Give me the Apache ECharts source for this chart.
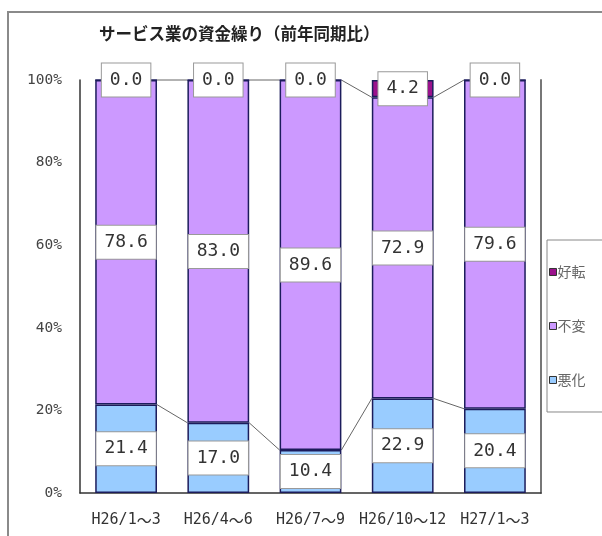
<!DOCTYPE html>
<html>
<head>
<meta charset="utf-8">
<script src="https://cdn.jsdelivr.net/npm/echarts@6/dist/echarts.min.js"></script>
<style>
html,body{margin:0;padding:0;background:#fff;}
#chart{width:602px;height:536px;}
</style>
</head>
<body>
<div id="chart"></div>
<script>
var titleText = 'サービス業の資金繰り（前年同期比）';
var categories = ['H26/1～3', 'H26/4～6', 'H26/7～9', 'H26/10～12', 'H27/1～3'];
var worse = [21.4, 17.0, 10.4, 22.9, 20.4];      // 悪化
var same = [78.6, 83.0, 89.6, 72.9, 79.6];       // 不変
var better = [0.0, 0.0, 0.0, 4.2, 0.0];          // 好転
var yTicks = [0, 20, 40, 60, 80, 100];

var BAR_PCT = 0.67;

// series-line data derived from the stacked values
var linkData = [];
for (var i = 0; i < categories.length - 1; i++) {
  var c1a = worse[i], c1b = worse[i + 1];
  var c2a = worse[i] + same[i], c2b = worse[i + 1] + same[i + 1];
  linkData.push([i, c1a, c1b, c2a, c2b]);
}

var labelStyle = {
  show: true,
  position: 'inside',
  formatter: function (p) { return Number(p.value).toFixed(1); },
  fontFamily: 'DejaVu Sans Mono',
  fontSize: 18,
  lineHeight: 20,
  color: '#333',
  backgroundColor: '#fff',
  borderColor: '#999',
  borderWidth: 1,
  padding: [7, 8, 6, 8]
};

var barBorder = { borderColor: '#1c1c5c', borderWidth: 1.5 };

var chart = echarts.init(document.getElementById('chart'), null, { renderer: 'canvas' });
chart.setOption({
  animation: false,
  backgroundColor: '#fff',
  title: {
    text: titleText,
    left: 94,
    top: 20,
    textStyle: { fontFamily: 'Noto Sans CJK JP', fontSize: 16.5, fontWeight: 'bold', color: '#222' }
  },
  graphic: [{
    type: 'rect',
    shape: { x: 8, y: 12, width: 620, height: 560 },
    style: { fill: 'none', stroke: '#8a8a8a', lineWidth: 2 },
    silent: true,
    z: -10
  }],
  legend: {
    orient: 'vertical',
    left: 547,
    top: 240,
    data: ['好転', '不変', '悪化'],
    icon: 'rect',
    itemWidth: 7,
    itemHeight: 7,
    itemGap: 40,
    padding: [25, 20, 25, 2],
    borderColor: '#888',
    borderWidth: 1,
    itemStyle: { borderColor: '#333', borderWidth: 1 },
    textStyle: { fontFamily: 'Noto Sans CJK JP', fontSize: 14, color: '#666', padding: [0, 0, 0, -4] }
  },
  grid: { left: 80, right: 61, top: 80, bottom: 43, containLabel: false },
  xAxis: {
    type: 'category',
    data: categories,
    axisTick: { show: false },
    axisLine: { lineStyle: { color: '#333', width: 1.5 } },
    axisLabel: {
      interval: 0,
      margin: 20,
      color: '#333',
      formatter: function (v) {
        var parts = v.split('～');
        return '{a|' + parts[0] + '}{b|～}{a|' + parts[1] + '}';
      },
      rich: {
        a: { fontFamily: 'DejaVu Sans Mono', fontSize: 15, color: '#333' },
        b: { fontFamily: 'Noto Sans CJK JP', fontSize: 15, color: '#333' }
      }
    }
  },
  yAxis: [{
    type: 'value',
    min: yTicks[0],
    max: yTicks[yTicks.length - 1],
    interval: 20,
    axisLine: { show: true, lineStyle: { color: '#333', width: 1.5 } },
    axisTick: { show: false },
    splitLine: { show: false },
    axisLabel: { formatter: '{value}%', margin: 18, fontFamily: 'DejaVu Sans Mono', fontSize: 14.5, color: '#444' }
  }, {
    type: 'value',
    position: 'right',
    min: 0, max: 100, interval: 20,
    axisLine: { show: true, lineStyle: { color: '#777', width: 2 } },
    axisTick: { show: false },
    axisLabel: { show: false },
    splitLine: { show: false }
  }],
  series: [{
    name: '悪化',
    type: 'bar',
    stack: 'total',
    barWidth: (BAR_PCT * 100) + '%',
    data: worse,
    itemStyle: Object.assign({ color: '#99CCFF' }, barBorder),
    label: labelStyle,
    z: 2
  }, {
    name: '不変',
    type: 'bar',
    stack: 'total',
    data: same,
    itemStyle: Object.assign({ color: '#CC99FF' }, barBorder),
    label: labelStyle,
    z: 2
  }, {
    name: '好転',
    type: 'bar',
    stack: 'total',
    data: better,
    itemStyle: Object.assign({ color: '#9B128C' }, barBorder),
    label: labelStyle,
    z: 3
  }, {
    name: 'series-lines',
    type: 'custom',
    data: linkData,
    encode: { x: 0, y: 1 },
    z: 1,
    silent: true,
    renderItem: function (params, api) {
      var i = api.value(0);
      var band = api.size([1, 0])[0];
      var half = band * BAR_PCT / 2;
      var children = [];
      [[1, 2], [3, 4]].forEach(function (pair) {
        var a = api.coord([i, api.value(pair[0])]);
        var b = api.coord([i + 1, api.value(pair[1])]);
        children.push({
          type: 'line',
          shape: { x1: a[0] + half, y1: a[1], x2: b[0] - half, y2: b[1] },
          style: { stroke: '#666', lineWidth: 1 }
        });
      });
      return { type: 'group', children: children };
    }
  }]
});
</script>
</body>
</html>
